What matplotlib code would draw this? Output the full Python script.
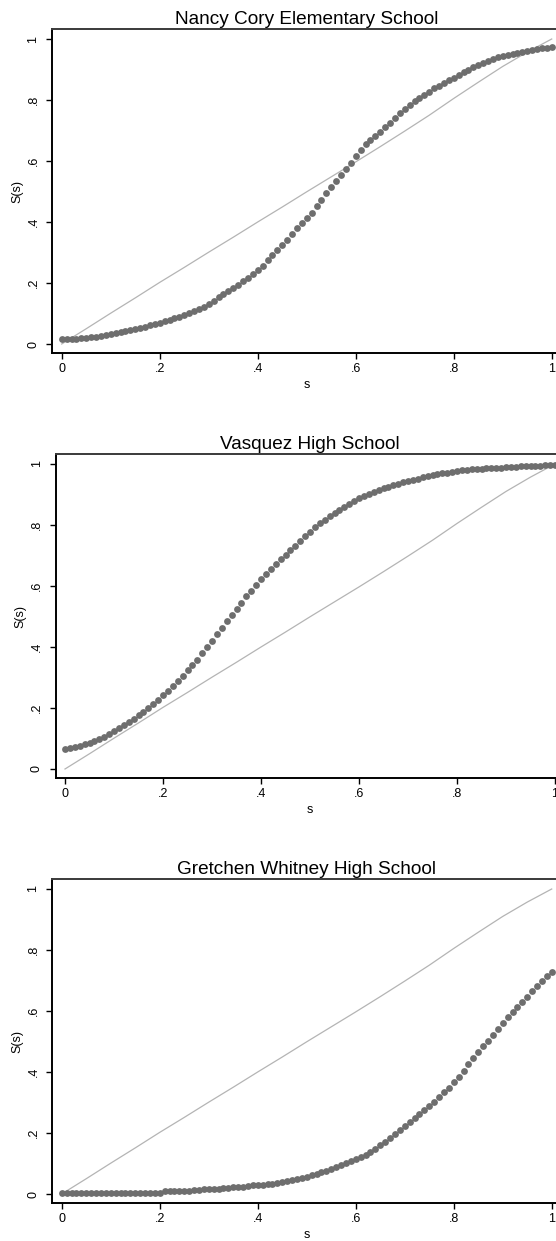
import matplotlib
matplotlib.use("Agg")
import matplotlib.pyplot as plt
import numpy as np

plt.rcParams["font.family"] = ["Liberation Sans", "DejaVu Sans"]

# ---- data ----
titles = ["Nancy Cory Elementary School", "Vasquez High School", "Gretchen Whitney High School"]
tick_vals = [0, 0.2, 0.4, 0.6, 0.8, 1]
tick_labels = ["0", ".2", ".4", ".6", ".8", "1"]

s_grid = [i / 100 for i in range(101)]

nancy = [
    .015, .016, .017, .018, .019, .020, .022, .024, .026, .029,
    .032, .035, .038, .041, .045, .048, .052, .056, .061, .065,
    .070, .075, .080, .085, .090, .095, .101, .107, .114, .122,
    .130, .141, .153, .163, .173, .183, .194, .206, .217, .229,
    .242, .256, .274, .293, .309, .325, .341, .360, .380, .397,
    .413, .430, .451, .472, .494, .514, .535, .555, .575, .595,
    .615, .636, .656, .670, .683, .696, .710, .726, .742, .757,
    .770, .783, .796, .806, .816, .827, .838, .847, .855, .864,
    .873, .882, .891, .900, .909, .916, .922, .929, .935, .940,
    .944, .947, .950, .953, .957, .961, .965, .968, .970, .972,
    .973,
]

vasquez = [
    .066, .069, .072, .076, .081, .086, .092, .098, .106, .115,
    .124, .133, .143, .153, .164, .176, .188, .201, .214, .227,
    .242, .257, .271, .288, .305, .323, .341, .358, .379, .400,
    .421, .442, .463, .484, .504, .524, .545, .566, .585, .604,
    .622, .640, .656, .672, .688, .703, .717, .732, .748, .763,
    .778, .792, .805, .817, .829, .840, .850, .859, .869, .878,
    .887, .895, .902, .909, .915, .921, .926, .931, .936, .940,
    .944, .948, .952, .956, .960, .963, .966, .969, .972, .975,
    .977, .979, .981, .983, .984, .985, .986, .986, .987, .988,
    .989, .990, .991, .992, .993, .994, .995, .995, .996, .997,
    .998,
]

whitney = [
    .004, .003, .003, .003, .003, .003, .003, .003, .003, .003,
    .003, .003, .003, .003, .003, .003, .003, .003, .003, .003,
    .004, .009, .010, .010, .010, .011, .011, .012, .013, .015,
    .016, .017, .018, .019, .020, .022, .023, .024, .026, .028,
    .029, .030, .032, .034, .036, .039, .042, .045, .049, .052,
    .056, .061, .066, .071, .076, .082, .089, .095, .101, .107,
    .114, .121, .129, .139, .149, .160, .172, .184, .196, .209,
    .222, .236, .249, .262, .274, .288, .303, .318, .333, .349,
    .366, .384, .404, .425, .446, .465, .484, .502, .521, .540,
    .560, .580, .596, .612, .628, .646, .666, .683, .698, .714,
    .729,
]

ref_s = [0, .05, .10, .15, .20, .25, .30, .35, .40, .45, .50,
         .55, .60, .65, .70, .75, .80, .85, .90, .95, 1.0]
ref_v = [0, .050, .101, .151, .202, .251, .301, .350, .400, .449, .499,
         .548, .597, .647, .698, .750, .805, .858, .910, .957, 1.0]

series = [nancy, vasquez, whitney]

# ---- layout (pixels) ----
W, H = 556, 1241
XLIM = (-0.019, 1.019)
YLIM = (-0.030, 1.033)
# x pixel of s=0, px per unit x, y pixel of S=0, px per unit y
geoms = [(61.7, 490, 344, 305), (65.0, 490, 769, 305), (61.7, 490, 1194, 305)]

fig = plt.figure(figsize=(W / 100, H / 100), dpi=100)

for title, vals, (x0, px, y0, py) in zip(titles, series, geoms):
    left = x0 + XLIM[0] * px
    right = x0 + XLIM[1] * px
    bottom = y0 - YLIM[0] * py
    top = y0 - YLIM[1] * py
    ax = fig.add_axes([left / W, 1 - bottom / H, (right - left) / W, (bottom - top) / H])

    ax.plot(ref_s, ref_v, color="#b4b4b4", linewidth=0.9, zorder=2)
    ax.plot(s_grid, vals, linestyle="none", marker="o", markersize=4.9,
            color="#6e6e6e", markeredgewidth=0, zorder=3)

    ax.set_xlim(*XLIM)
    ax.set_ylim(*YLIM)
    ax.set_xticks(tick_vals)
    ax.set_xticklabels(tick_labels)
    ax.set_yticks(tick_vals)
    ax.set_yticklabels(tick_labels, rotation=90, va="center")
    ax.tick_params(axis="both", direction="out", length=4.3, width=1.0,
                   labelsize=9, colors="black")
    ax.tick_params(axis="x", pad=2.5)
    ax.tick_params(axis="y", pad=5)

    ax.spines["right"].set_visible(False)
    for side in ("left", "bottom"):
        ax.spines[side].set_linewidth(1.4)
        ax.spines[side].set_color("black")
    ax.spines["top"].set_linewidth(1.4)
    ax.spines["top"].set_color("#3a3a3a")

    ax.set_title(title, fontsize=13.7, pad=3.5)
    ax.set_xlabel("s", fontsize=9, labelpad=3)
    ax.set_ylabel("S(s)", fontsize=9, labelpad=3)

fig.savefig("out.png", dpi=100)
